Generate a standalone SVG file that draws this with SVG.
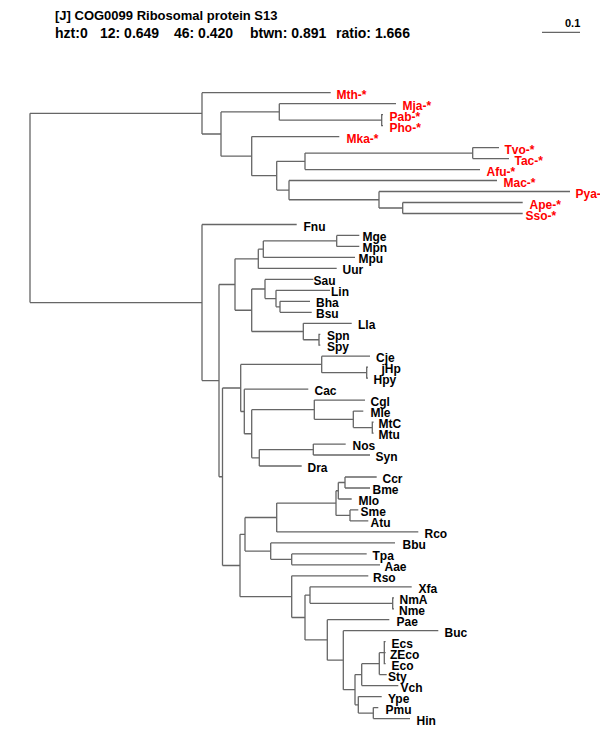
<svg xmlns="http://www.w3.org/2000/svg" width="600" height="750" viewBox="0 0 600 750">
<style>
.c{fill:none;stroke:#666;stroke-width:1.3}
.t{font-family:"Liberation Sans",Arial,sans-serif;font-weight:bold;fill:#000}
.l{font-family:"Liberation Sans",Arial,sans-serif;font-weight:bold;font-size:12px;fill:#000}
.a{fill:#f00}
</style>
<rect width="600" height="750" fill="#fff"/>
<g id="header">
<text class="t" x="55" y="20" font-size="13">[J] COG0099 Ribosomal protein S13</text>
<text class="t" y="38" font-size="14"><tspan x="55">hzt:0</tspan><tspan x="100">12: 0.649</tspan><tspan x="174">46: 0.420</tspan><tspan x="250">btwn: 0.891</tspan><tspan x="336">ratio: 1.666</tspan></text>
</g>
<g id="scale">
<path class="c" d="M542 32.3H580"/>
<text class="t" x="565" y="27.3" font-size="11">0.1</text>
</g>
<g id="connectors">
<path class="c" d="M30 113.35V302.55M30 113.35H202M30 302.55H202"/>
<path class="c" d="M202 92.7V134M202 92.7H330.7M202 134H221"/>
<path class="c" d="M221 111.9V156.15M221 111.9H279.3M221 156.15H251.7"/>
<path class="c" d="M279.3 103.7V120.15M279.3 103.7H396M279.3 120.15H381.7M383 114.7H381.7V125.6H383"/>
<path class="c" d="M251.7 136.6V175.7M251.7 136.6H339.3M251.7 175.7H276.7"/>
<path class="c" d="M276.7 161.35V190.1M276.7 161.35H305M276.7 190.1H289"/>
<path class="c" d="M305 153.1V169.6M305 153.1H472.7M305 169.6H480"/>
<path class="c" d="M472.7 147.6V158.6M472.7 147.6H499M472.7 158.6H509"/>
<path class="c" d="M289 180.5V199.75M289 180.5H497M289 199.75H379"/>
<path class="c" d="M379 191.5V208M379 191.5H570M379 208H402.7"/>
<path class="c" d="M402.7 202.5V213.5M402.7 202.5H522.7M402.7 213.5H522.7"/>
<path class="c" d="M202 224.5V380.6M202 224.5H296.7M202 380.6H219"/>
<path class="c" d="M219 284.5V476.75M219 284.5H235M219 476.75H222.5"/>
<path class="c" d="M235 258.8V310.25M235 258.8H258.3M235 310.25H251.7"/>
<path class="c" d="M258.3 249.15V268.4M258.3 249.15H263.3M258.3 268.4H336.7"/>
<path class="c" d="M263.3 240.9V257.4M263.3 240.9H336.7M263.3 257.4H355"/>
<path class="c" d="M336.7 235.4V246.4M336.7 235.4H359.3M336.7 246.4H359.3"/>
<path class="c" d="M251.7 289V331.5M251.7 289H265M251.7 331.5H303.3"/>
<path class="c" d="M265 279.4V298.55M265 279.4H313.3M265 298.55H276"/>
<path class="c" d="M276 290.3V306.8M276 290.3H330M276 306.8H280"/>
<path class="c" d="M280 301.3V312.3M280 301.3H310M280 312.3H311.7"/>
<path class="c" d="M303.3 323.3V339.75M303.3 323.3H351.7M303.3 339.75H319M320.3 334.3H319V345.2H320.3"/>
<path class="c" d="M222.5 388V565.5M222.5 388H240.7M222.5 565.5H240"/>
<path class="c" d="M240.7 364.45V411.5M240.7 364.45H321.7M240.7 411.5H244.3"/>
<path class="c" d="M321.7 356.2V372.7M321.7 356.2H370M321.7 372.7H366.7M368 367.2H366.7V378.2H368"/>
<path class="c" d="M244.3 389.2V433.75M244.3 389.2H308.3M244.3 433.75H251.7"/>
<path class="c" d="M251.7 409.7V457.8M251.7 409.7H314.3M251.7 457.8H259.3"/>
<path class="c" d="M314.3 400.1V419.35M314.3 400.1H365M314.3 419.35H353.3"/>
<path class="c" d="M353.3 411.1V427.6M353.3 411.1H363.3M353.3 427.6H372.3M373.6 422.1H372.3V433.1H373.6"/>
<path class="c" d="M259.3 449.55V466M259.3 449.55H313.3M259.3 466H301.7"/>
<path class="c" d="M313.3 444.1V455M313.3 444.1H345.7M313.3 455H370"/>
<path class="c" d="M240 534.3V596.65M240 534.3H245M240 596.65H291.7"/>
<path class="c" d="M245 517.5V551.1M245 517.5H276.7M245 551.1H270.7"/>
<path class="c" d="M276.7 503.1V531.9M276.7 503.1H336M276.7 531.9H418.3"/>
<path class="c" d="M336 490.75V515.4M336 490.75H338.3M336 515.4H350"/>
<path class="c" d="M338.3 482.5V499M338.3 482.5H345M338.3 499H351.7"/>
<path class="c" d="M345 477V488M345 477H376.7M345 488H370"/>
<path class="c" d="M350 509.9V520.9M350 509.9H358.3M350 520.9H368.3"/>
<path class="c" d="M270.7 542.9V559.35M270.7 542.9H395M270.7 559.35H291.7"/>
<path class="c" d="M291.7 553.9V564.8M291.7 553.9H366.7M291.7 564.8H380"/>
<path class="c" d="M291.7 575.8V617.5M291.7 575.8H368.3M291.7 617.5H305"/>
<path class="c" d="M305 595.05V639.95M305 595.05H310M305 639.95H327.3"/>
<path class="c" d="M310 586.8V603.3M310 586.8H411.7M310 603.3H392.7M394 597.8H392.7V608.8H394"/>
<path class="c" d="M327.3 619.7V660.2M327.3 619.7H389.3M327.3 660.2H343.3"/>
<path class="c" d="M343.3 630.7V689.7M343.3 630.7H438.3M343.3 689.7H355"/>
<path class="c" d="M355 674.6V704.85M355 674.6H361.7M355 704.85H358.3"/>
<path class="c" d="M361.7 663.65V685.6M361.7 663.65H379.3M361.7 685.6H398.3"/>
<path class="c" d="M379.3 652.7V674.6M379.3 652.7H384.3M379.3 674.6H386.7M385.6 641.7H384.3V663.7H385.6M384.3 652.7H385.6"/>
<path class="c" d="M358.3 696.6V713.1M358.3 696.6H381.7M358.3 713.1H373.3"/>
<path class="c" d="M373.3 707.6V718.6M373.3 707.6H378.3M373.3 718.6H410"/>
</g>
<g id="n-Mth"><text class="l a" x="336.5" y="98.7">Mth-*</text></g>
<g id="n-Mja"><text class="l a" x="402.5" y="109.7">Mja-*</text></g>
<g id="n-Pab"><text class="l a" x="389.5" y="120.7">Pab-*</text></g>
<g id="n-Pho"><text class="l a" x="389.5" y="131.6">Pho-*</text></g>
<g id="n-Mka"><text class="l a" x="346.5" y="142.6">Mka-*</text></g>
<g id="n-Tvo"><text class="l a" x="504.5" y="153.6">Tvo-*</text></g>
<g id="n-Tac"><text class="l a" x="514.5" y="164.6">Tac-*</text></g>
<g id="n-Afu"><text class="l a" x="486.5" y="175.6">Afu-*</text></g>
<g id="n-Mac"><text class="l a" x="503.5" y="186.5">Mac-*</text></g>
<g id="n-Pya"><text class="l a" x="575.5" y="197.5">Pya-</text></g>
<g id="n-Ape"><text class="l a" x="529.5" y="208.5">Ape-*</text></g>
<g id="n-Sso"><text class="l a" x="525.5" y="219.5">Sso-*</text></g>
<g id="n-Fnu"><text class="l" x="303.5" y="230.5">Fnu</text></g>
<g id="n-Mge"><text class="l" x="362.5" y="241.4">Mge</text></g>
<g id="n-Mpn"><text class="l" x="362.5" y="252.4">Mpn</text></g>
<g id="n-Mpu"><text class="l" x="358.5" y="263.4">Mpu</text></g>
<g id="n-Uur"><text class="l" x="342.5" y="274.4">Uur</text></g>
<g id="n-Sau"><text class="l" x="313.5" y="285.4">Sau</text></g>
<g id="n-Lin"><text class="l" x="331" y="296.3">Lin</text></g>
<g id="n-Bha"><text class="l" x="316" y="307.3">Bha</text></g>
<g id="n-Bsu"><text class="l" x="316" y="318.3">Bsu</text></g>
<g id="n-Lla"><text class="l" x="358" y="329.3">Lla</text></g>
<g id="n-Spn"><text class="l" x="327" y="340.3">Spn</text></g>
<g id="n-Spy"><text class="l" x="327" y="351.2">Spy</text></g>
<g id="n-Cje"><text class="l" x="376" y="362.2">Cje</text></g>
<g id="n-jHp"><text class="l" x="381.5" y="373.2">jHp</text></g>
<g id="n-Hpy"><text class="l" x="373.5" y="384.2">Hpy</text></g>
<g id="n-Cac"><text class="l" x="314.5" y="395.2">Cac</text></g>
<g id="n-Cgl"><text class="l" x="370.5" y="406.1">Cgl</text></g>
<g id="n-Mle"><text class="l" x="370.5" y="417.1">Mle</text></g>
<g id="n-MtC"><text class="l" x="378.5" y="428.1">MtC</text></g>
<g id="n-Mtu"><text class="l" x="378.5" y="439.1">Mtu</text></g>
<g id="n-Nos"><text class="l" x="352.5" y="450.1">Nos</text></g>
<g id="n-Syn"><text class="l" x="375.5" y="461">Syn</text></g>
<g id="n-Dra"><text class="l" x="307.5" y="472">Dra</text></g>
<g id="n-Ccr"><text class="l" x="382.5" y="483">Ccr</text></g>
<g id="n-Bme"><text class="l" x="372.5" y="494">Bme</text></g>
<g id="n-Mlo"><text class="l" x="358.5" y="505">Mlo</text></g>
<g id="n-Sme"><text class="l" x="360.5" y="515.9">Sme</text></g>
<g id="n-Atu"><text class="l" x="370.5" y="526.9">Atu</text></g>
<g id="n-Rco"><text class="l" x="424.5" y="537.9">Rco</text></g>
<g id="n-Bbu"><text class="l" x="402.5" y="548.9">Bbu</text></g>
<g id="n-Tpa"><text class="l" x="372.5" y="559.9">Tpa</text></g>
<g id="n-Aae"><text class="l" x="384.5" y="570.8">Aae</text></g>
<g id="n-Rso"><text class="l" x="373" y="581.8">Rso</text></g>
<g id="n-Xfa"><text class="l" x="418.5" y="592.8">Xfa</text></g>
<g id="n-NmA"><text class="l" x="399.5" y="603.8">NmA</text></g>
<g id="n-Nme"><text class="l" x="399" y="614.8">Nme</text></g>
<g id="n-Pae"><text class="l" x="396.5" y="625.7">Pae</text></g>
<g id="n-Buc"><text class="l" x="444.5" y="636.7">Buc</text></g>
<g id="n-Ecs"><text class="l" x="391.5" y="647.7">Ecs</text></g>
<g id="n-ZEco"><text class="l" x="390" y="658.7">ZEco</text></g>
<g id="n-Eco"><text class="l" x="391.5" y="669.7">Eco</text></g>
<g id="n-Sty"><text class="l" x="388" y="680.6">Sty</text></g>
<g id="n-Vch"><text class="l" x="400.5" y="691.6">Vch</text></g>
<g id="n-Ype"><text class="l" x="388" y="702.6">Ype</text></g>
<g id="n-Pmu"><text class="l" x="385.5" y="713.6">Pmu</text></g>
<g id="n-Hin"><text class="l" x="416.5" y="724.6">Hin</text></g>
</svg>
